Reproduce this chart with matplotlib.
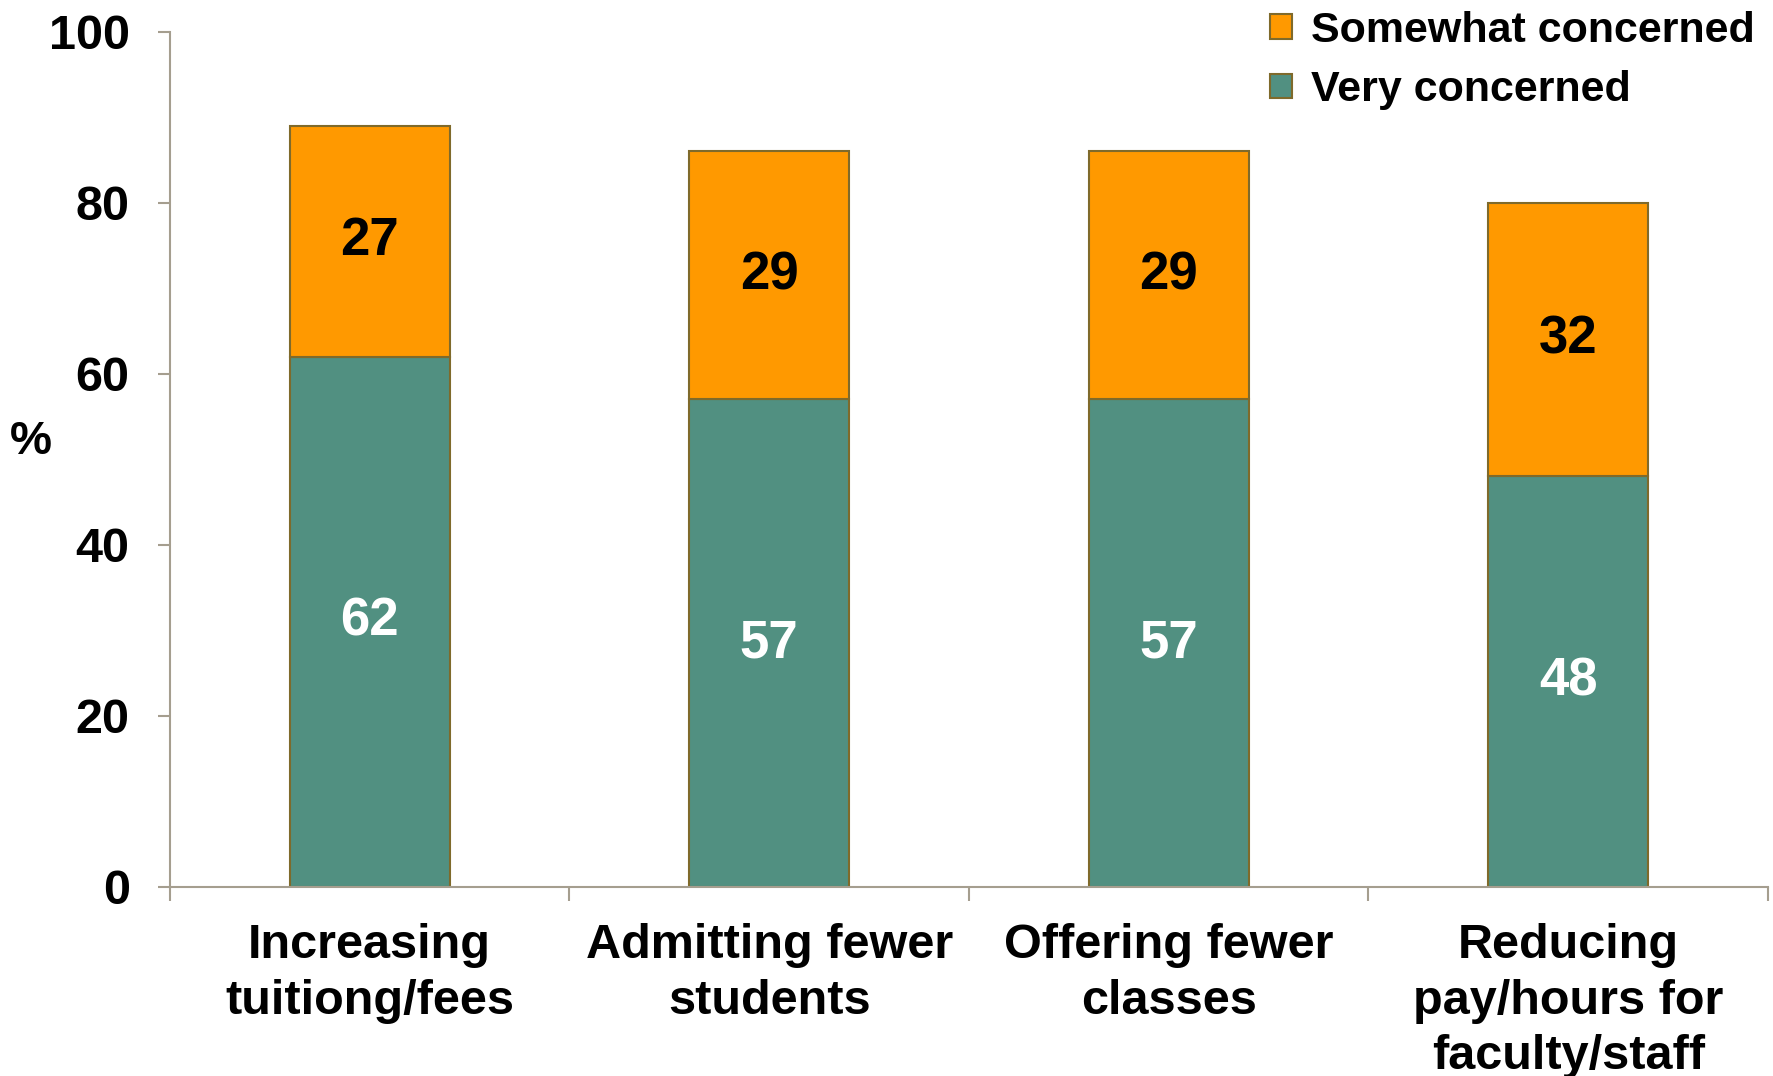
import matplotlib.pyplot as plt
import numpy as np

plt.rcParams['font.family'] = ['Liberation Sans', 'DejaVu Sans']
plt.rcParams['font.weight'] = 'bold'

categories = ['Increasing\ntuitiong/fees', 'Admitting fewer\nstudents',
              'Offering fewer\nclasses', 'Reducing\npay/hours for\nfaculty/staff']
very = [62, 57, 57, 48]
somewhat = [27, 29, 29, 32]

green = '#519081'
orange = '#FF9900'
edge = '#7F6A2B'
axis_col = '#A59E8F'

fig = plt.figure(figsize=(17.74, 10.76), dpi=100)
ax = fig.add_axes([0.0958, 0.1757, 0.9008, 0.7948])

x = np.arange(len(categories))
b1 = ax.bar(x, very, width=0.4, color=green, edgecolor=edge, linewidth=1.5,
            label='Very concerned')
b2 = ax.bar(x, somewhat, width=0.4, bottom=very, color=orange, edgecolor=edge,
            linewidth=1.5, label='Somewhat concerned')

for i in range(len(x)):
    ax.text(x[i], very[i] / 2, str(very[i]), ha='center', va='center',
            color='white', fontsize=38, fontweight='bold')
    ax.text(x[i], very[i] + somewhat[i] / 2, str(somewhat[i]), ha='center',
            va='center', color='black', fontsize=38, fontweight='bold')

ax.set_xlim(-0.5, 3.5)
ax.set_ylim(0, 100)
ax.set_yticks([0, 20, 40, 60, 80, 100])
ax.set_xticks(x)
ax.set_xticklabels(categories, linespacing=1.3)
ax.set_xticks(np.arange(-0.5, 4, 1), minor=True)
ax.tick_params(axis='x', which='major', length=0, pad=26, labelsize=35)
ax.tick_params(axis='x', which='minor', length=10, width=1.5, color=axis_col)
ax.tick_params(axis='y', length=9, width=1.5, color=axis_col, pad=20, labelsize=35)

for s in ['top', 'right']:
    ax.spines[s].set_visible(False)
for s in ['left', 'bottom']:
    ax.spines[s].set_color(axis_col)
    ax.spines[s].set_linewidth(1.5)

ax.text(-0.1, 0.52, '%', transform=ax.transAxes, fontsize=34,
        fontweight='bold', ha='left', va='center')

handles = [b2, b1]
ax.legend(handles, [h.get_label() for h in handles], loc='upper left',
          bbox_to_anchor=(0.704, 1.01), bbox_transform=fig.transFigure,
          frameon=False, fontsize=31, handlelength=0.5, handleheight=0.5,
          handletextpad=0.45, labelspacing=0.45, borderpad=0)

fig.savefig('out.png', dpi=100)
